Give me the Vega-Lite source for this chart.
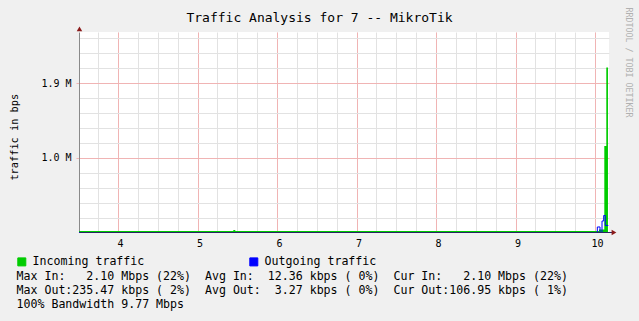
{
  "$schema": "https://vega.github.io/schema/vega-lite/v6.json",
  "width": 530,
  "height": 200,
  "autosize": {"type": "none"},
  "padding": {"left": 79, "top": 32, "right": 30, "bottom": 89},
  "background": "#f0f0f0",
  "config": {
    "view": {"fill": "#ffffff", "stroke": null},
    "font": "DejaVu Sans Mono",
    "axis": {"labelFont": "DejaVu Sans Mono", "titleFont": "DejaVu Sans Mono"}
  },
  "title": {
    "text": "Traffic Analysis for 7 -- MikroTik",
    "anchor": "middle",
    "frame": "group",
    "dx": -24.5,
    "offset": -28,
    "baseline": "alphabetic",
    "font": "DejaVu Sans Mono",
    "fontSize": 13,
    "fontWeight": "normal",
    "color": "#000000"
  },
  "datasets": {
    "traffic": [
      {"t": 3.509, "v": 0.02, "series": "Incoming traffic"},
      {"t": 5.45, "v": 0.034, "series": "Incoming traffic"},
      {"t": 5.475, "v": 0.02, "series": "Incoming traffic"},
      {"t": 10.05, "v": 0.04, "series": "Incoming traffic"},
      {"t": 10.117, "v": 1.159, "series": "Incoming traffic"},
      {"t": 10.142, "v": 2.211, "series": "Incoming traffic"},
      {"t": 10.163, "v": 0, "series": "Incoming traffic"},
      {"t": 3.509, "v": 0, "series": "Outgoing traffic"},
      {"t": 10.029, "v": 0.074, "series": "Outgoing traffic"},
      {"t": 10.063, "v": 0, "series": "Outgoing traffic"},
      {"t": 10.088, "v": 0.154, "series": "Outgoing traffic"},
      {"t": 10.109, "v": 0.228, "series": "Outgoing traffic"},
      {"t": 10.129, "v": 0.094, "series": "Outgoing traffic"},
      {"t": 10.167, "v": 0.094, "series": "Outgoing traffic"}
    ]
  },
  "data": {"name": "traffic"},
  "layer": [
    {
      "transform": [{"filter": "datum.series === 'Incoming traffic'"}],
      "mark": {"type": "area", "interpolate": "step-after", "opacity": 1},
      "encoding": {
        "x": {
          "field": "t", "type": "quantitative",
          "scale": {"domain": [3.509, 10.176], "nice": false, "zero": false},
          "axis": {"orient": "bottom", "values": [3.75, 4, 4.25, 4.5, 4.75, 5, 5.25, 5.5, 5.75, 6, 6.25, 6.5, 6.75, 7, 7.25, 7.5, 7.75, 8, 8.25, 8.5, 8.75, 9, 9.25, 9.5, 9.75, 10],
                   "grid": true, "gridColor": "#e2e2e2", "labels": false, "ticks": false, "domain": false, "title": null}
        },
        "y": {
          "field": "v", "type": "quantitative",
          "scale": {"domain": [0.0067, 2.6867], "nice": false, "zero": false},
          "axis": {"orient": "left", "values": [0.2, 0.4, 0.6, 0.8, 1.2, 1.4, 1.6, 1.8, 2.2, 2.4, 2.6],
                   "grid": true, "gridColor": "#e2e2e2", "labels": false, "ticks": false, "domain": false, "title": null}
        },
        "color": {
          "field": "series", "type": "nominal",
          "scale": {"domain": ["Incoming traffic", "Outgoing traffic"], "range": ["#00cc00", "#0000ff"]},
          "legend": {
            "orient": "none", "legendX": -63, "legendY": 224,
            "direction": "horizontal", "columns": 2, "columnPadding": 102,
            "title": null, "padding": 0,
            "symbolType": "square", "symbolSize": 64,
            "symbolStrokeColor": "#000000", "symbolStrokeWidth": 1, "symbolOpacity": 1,
            "labelFont": "DejaVu Sans Mono", "labelFontSize": 11.6, "labelColor": "#000000",
            "labelOffset": 5, "labelLimit": 300,
            "encode": {"symbols": {"update": {"fill": {"scale": "color", "field": "value"}, "stroke": {"value": "#000000"}, "strokeWidth": {"value": 1}, "opacity": {"value": 1}}}}
          }
        }
      }
    },
    {
      "transform": [{"filter": "datum.series === 'Outgoing traffic'"}],
      "mark": {"type": "line", "interpolate": "step-after", "strokeWidth": 1},
      "encoding": {
        "x": {
          "field": "t", "type": "quantitative",
          "axis": {
            "orient": "bottom", "values": [4, 5, 6, 7, 8, 9, 10], "format": "d",
            "grid": true, "gridColor": "#f0b4b4", "domain": false, "ticks": false,
            "labelFontSize": 10, "labelColor": "#000000", "labelBaseline": "alphabetic",
            "labelPadding": 14, "labelOffset": 2,
            "title": [
              "Max\u00a0In:\u00a0\u00a0\u00a02.10\u00a0Mbps\u00a0(22%)\u00a0\u00a0Avg\u00a0In:\u00a0\u00a012.36\u00a0kbps\u00a0(\u00a00%)\u00a0\u00a0Cur\u00a0In:\u00a0\u00a0\u00a02.10\u00a0Mbps\u00a0(22%)",
              "Max\u00a0Out:235.47\u00a0kbps\u00a0(\u00a02%)\u00a0\u00a0Avg\u00a0Out:\u00a0\u00a03.27\u00a0kbps\u00a0(\u00a00%)\u00a0\u00a0Cur\u00a0Out:106.95\u00a0kbps\u00a0(\u00a01%)",
              "100%\u00a0Bandwidth\u00a09.77\u00a0Mbps"
            ],
            "titleX": -63, "titleY": 47, "titleAlign": "left", "titleAnchor": "start",
            "titleBaseline": "alphabetic", "titleFontSize": 11.6, "titleFontWeight": "normal",
            "titleColor": "#000000", "titleLineHeight": 14
          }
        },
        "y": {
          "field": "v", "type": "quantitative",
          "axis": {
            "orient": "left", "values": [0, 1, 2],
            "labelExpr": "datum.value === 0 ? '0.0' : (datum.value === 1 ? '1.0 M' : '1.9 M')",
            "grid": true,
            "gridColor": {"condition": {"test": "datum.value === 0", "value": "transparent"}, "value": "#f0b4b4"},
            "domain": true, "domainColor": "#8a8a8a",
            "ticks": true, "tickSize": 3, "tickColor": "#f0b4b4",
            "labelFontSize": 10, "labelColor": "#000000", "labelPadding": 5, "labelBaseline": "middle",
            "title": "traffic in bps", "titleX": -62, "titleY": 104.7, "titleAlign": "center",
            "titleAngle": 270, "titleBaseline": "alphabetic", "titleFontSize": 10.3,
            "titleFontWeight": "normal", "titleColor": "#000000"
          }
        },
        "color": {"field": "series", "type": "nominal"}
      }
    },
    {
      "mark": {"type": "point", "opacity": 0},
      "encoding": {
        "x": {
          "field": "t", "type": "quantitative",
          "axis": {"orient": "bottom", "grid": false, "labels": false, "ticks": false, "domain": true,
                   "domainColor": "#262660", "zindex": 1, "title": null}
        },
        "y": {
          "field": "v", "type": "quantitative",
          "axis": {"orient": "right", "grid": false, "labels": false, "ticks": false, "domain": false,
                   "title": "RRDTOOL / TOBI OETIKER", "titleAngle": 90, "titleX": 16.7, "titleY": 30,
                   "titleAlign": "center", "titleBaseline": "alphabetic", "titleFontSize": 8.3,
                   "titleColor": "#b0b0b0", "titleFontWeight": "normal"}
        }
      }
    },
    {
      "data": {"values": [{}]},
      "mark": {"type": "rule", "color": "#262660", "strokeWidth": 1, "clip": false},
      "encoding": {
        "x": {"datum": 10.176, "type": "quantitative", "axis": null},
        "x2": {"datum": 10.215},
        "y": {"datum": 0, "type": "quantitative", "axis": null}
      }
    },
    {
      "data": {"values": [{}]},
      "mark": {"type": "point", "shape": "triangle-right", "filled": true, "size": 30, "color": "#8b1a1a", "opacity": 1, "clip": false},
      "encoding": {
        "x": {"datum": 10.239, "type": "quantitative", "axis": null},
        "y": {"datum": 0, "type": "quantitative", "axis": null}
      }
    },
    {
      "data": {"values": [{}]},
      "mark": {"type": "point", "shape": "triangle-up", "filled": true, "size": 30, "color": "#8b1a1a", "opacity": 1, "clip": false},
      "encoding": {
        "x": {"datum": 3.515, "type": "quantitative", "axis": null},
        "y": {"datum": 2.727, "type": "quantitative", "axis": null}
      }
    }
  ],
  "resolve": {"axis": {"x": "independent", "y": "independent"}}
}
